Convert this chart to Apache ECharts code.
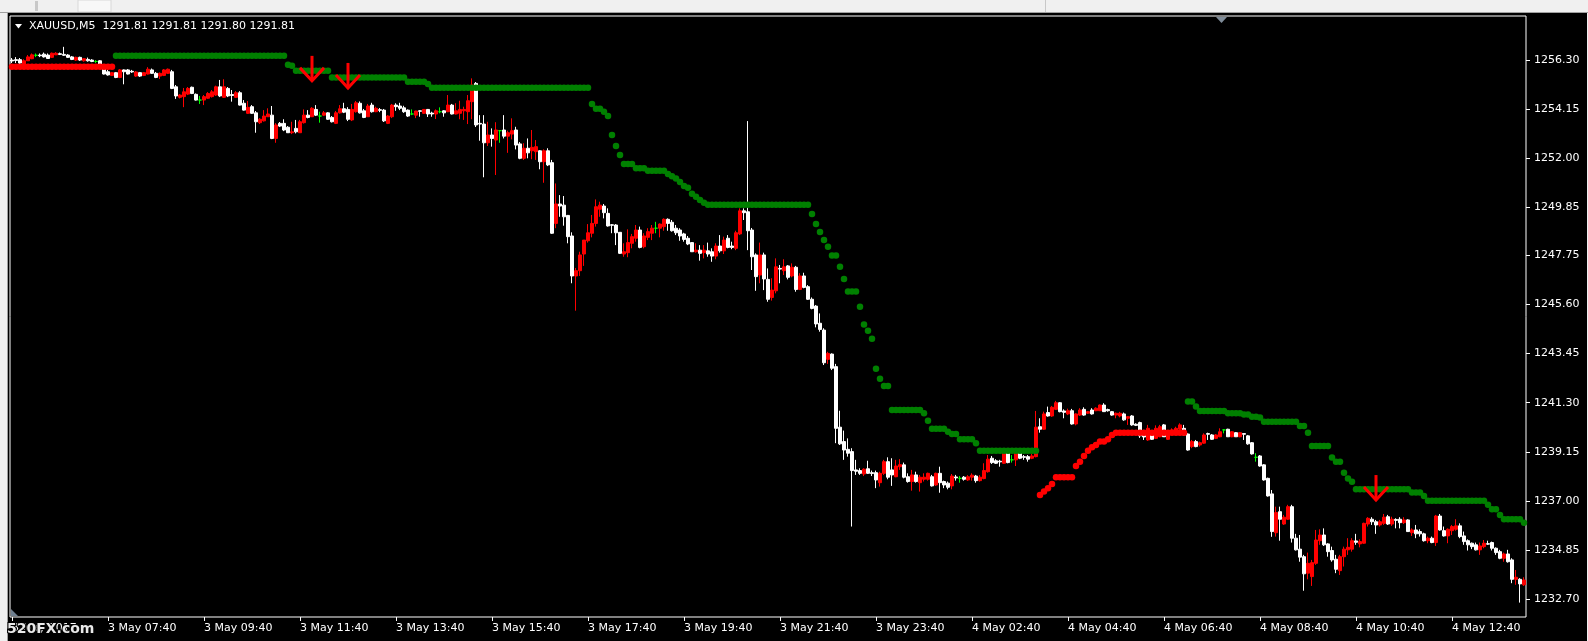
<!DOCTYPE html>
<html><head><meta charset="utf-8">
<script src="https://cdn.jsdelivr.net/npm/echarts@6/dist/echarts.min.js"></script>
<style>html,body{margin:0;padding:0;background:#000;overflow:hidden}#c{width:1588px;height:641px}</style>
</head><body><div id="c"></div>
<script>
const chartTitle = 'XAUUSD,M5  1291.81 1291.81 1291.80 1291.81';
const watermark = '520FX.com';
const timeLabels = ['3 May 2017','3 May 07:40','3 May 09:40','3 May 11:40','3 May 13:40','3 May 15:40','3 May 17:40','3 May 19:40','3 May 21:40','3 May 23:40','4 May 02:40','4 May 04:40','4 May 06:40','4 May 08:40','4 May 10:40','4 May 12:40'];
const yTicks = [1256.30,1254.15,1252.00,1249.85,1247.75,1245.60,1243.45,1241.30,1239.15,1237.00,1234.85,1232.70];
// [open, close, low, high]
const candles = [
[1256.30,1256.26,1256.17,1256.39],[1256.32,1256.28,1256.17,1256.43],[1256.32,1256.17,1256.13,1256.39],[1256.13,1256.27,1256.08,1256.34],[1256.27,1256.44,1256.26,1256.52],
[1256.36,1256.53,1256.34,1256.59],[1256.51,1256.51,1256.43,1256.59],[1256.52,1256.49,1256.43,1256.59],[1256.56,1256.44,1256.41,1256.63],[1256.52,1256.37,1256.36,1256.59],
[1256.42,1256.60,1256.39,1256.63],[1256.53,1256.60,1256.52,1256.65],[1256.58,1256.55,1256.52,1256.63],[1256.55,1256.51,1256.48,1256.88],[1256.52,1256.42,1256.39,1256.56],
[1256.44,1256.33,1256.30,1256.48],[1256.30,1256.42,1256.26,1256.45],[1256.42,1256.30,1256.26,1256.45],[1256.27,1256.36,1256.23,1256.39],[1256.33,1256.27,1256.23,1256.41],
[1256.30,1256.24,1256.21,1256.34],[1256.24,1256.24,1256.17,1256.30],[1256.27,1256.13,1256.08,1256.30],[1256.08,1255.69,1255.67,1256.13],[1255.79,1255.65,1255.62,1255.87],
[1255.63,1255.75,1255.60,1255.78],[1255.75,1255.54,1255.51,1255.78],[1255.54,1255.87,1255.51,1255.91],[1255.87,1255.79,1255.24,1255.89],[1255.87,1255.69,1255.67,1255.91],
[1255.81,1255.78,1255.74,1255.87],[1255.60,1255.78,1255.56,1255.82],[1255.75,1255.60,1255.56,1255.78],[1255.63,1255.75,1255.60,1255.78],[1255.69,1255.90,1255.67,1255.99],
[1255.87,1255.72,1255.69,1255.93],[1255.72,1255.54,1255.51,1255.78],[1255.60,1255.72,1255.47,1255.76],[1255.63,1255.87,1255.60,1255.91],[1255.72,1255.90,1255.69,1255.93],
[1255.79,1255.06,1255.03,1255.87],[1255.13,1254.73,1254.60,1255.21],[1254.67,1254.77,1254.62,1254.81],[1254.70,1254.91,1254.24,1255.08],[1254.81,1255.06,1254.77,1255.12],
[1255.11,1254.84,1254.81,1255.14],[1254.80,1254.55,1254.53,1254.84],[1254.55,1254.55,1254.38,1254.73],[1254.55,1254.70,1254.33,1254.77],[1254.63,1254.84,1254.60,1254.90],
[1254.70,1254.91,1254.66,1254.99],[1254.77,1255.13,1254.73,1255.18],[1255.13,1254.73,1254.68,1255.43],[1254.67,1255.13,1254.64,1255.46],[1255.06,1254.73,1254.68,1255.12],
[1254.79,1254.75,1254.48,1254.99],[1254.67,1254.87,1254.64,1254.94],[1254.87,1254.33,1254.31,1254.94],[1254.41,1254.11,1254.09,1254.55],[1253.97,1254.23,1253.94,1254.51],
[1254.26,1253.97,1253.94,1254.33],[1253.99,1253.60,1253.12,1254.07],[1253.56,1253.71,1253.50,1253.76],[1253.64,1253.85,1253.61,1254.11],[1253.82,1253.94,1253.81,1254.19],
[1253.89,1252.87,1252.84,1254.29],[1252.87,1253.46,1252.68,1253.54],[1253.53,1253.41,1253.37,1253.59],[1253.53,1253.24,1253.19,1253.71],[1253.36,1253.12,1253.11,1253.41],
[1253.12,1253.16,1253.06,1253.60],[1253.31,1253.16,1253.09,1253.68],[1253.12,1253.60,1253.11,1253.68],[1253.56,1253.89,1253.52,1254.14],[1253.89,1253.79,1253.75,1254.11],
[1253.82,1254.19,1253.81,1254.24],[1254.14,1253.89,1253.85,1254.33],[1253.85,1253.85,1253.56,1254.04],[1253.89,1253.99,1253.85,1254.07],[1253.99,1253.71,1253.68,1254.02],
[1253.79,1253.60,1253.57,1253.85],[1253.53,1253.99,1253.50,1254.07],[1253.99,1254.17,1253.96,1254.33],[1254.17,1254.02,1253.98,1254.43],[1254.14,1253.71,1253.63,1254.24],
[1253.68,1254.14,1253.63,1254.38],[1254.04,1254.43,1254.00,1254.51],[1254.41,1253.99,1253.96,1254.49],[1254.08,1253.79,1253.76,1254.16],[1253.82,1254.29,1253.81,1254.38],
[1254.33,1254.04,1254.00,1254.43],[1254.04,1254.19,1254.02,1254.26],[1254.13,1254.10,1254.02,1254.20],[1254.11,1253.64,1253.59,1254.16],[1253.53,1253.85,1253.50,1253.89],
[1253.82,1254.33,1253.76,1254.38],[1254.33,1254.26,1254.08,1254.41],[1254.29,1254.19,1254.11,1254.43],[1254.21,1254.04,1253.99,1254.30],[1254.11,1253.85,1253.81,1254.14],
[1253.94,1253.94,1253.89,1254.14],[1253.89,1254.07,1253.76,1254.08],[1254.08,1254.06,1253.82,1254.11],[1253.97,1254.14,1253.94,1254.16],[1254.14,1253.94,1253.81,1254.16],
[1253.98,1253.94,1253.82,1254.04],[1253.94,1254.08,1253.72,1254.14],[1254.04,1254.04,1253.97,1254.23],[1254.08,1253.99,1253.82,1254.11],[1254.04,1254.33,1254.02,1254.77],
[1254.33,1253.94,1253.92,1254.38],[1253.94,1254.08,1253.92,1254.41],[1253.97,1254.14,1253.71,1254.52],[1254.08,1254.14,1253.68,1254.26],[1254.04,1254.52,1253.50,1254.77],
[1254.48,1255.21,1253.71,1255.50],[1255.28,1253.46,1253.37,1255.34],[1253.53,1253.50,1252.77,1253.89],[1253.50,1252.68,1251.17,1253.89],[1252.68,1253.02,1252.54,1253.60],
[1253.02,1252.87,1252.51,1253.31],[1252.80,1253.24,1251.27,1253.58],[1253.21,1253.21,1252.68,1253.24],[1253.24,1252.97,1252.87,1253.89],[1252.97,1253.12,1252.24,1253.21],
[1253.06,1253.21,1252.83,1253.75],[1253.24,1252.58,1252.39,1253.38],[1252.63,1252.00,1251.96,1252.71],[1252.00,1252.44,1251.93,1252.66],[1252.44,1252.24,1252.00,1252.87],
[1252.33,1252.48,1251.96,1253.24],[1252.29,1252.51,1251.93,1252.80],[1252.33,1251.85,1251.52,1252.36],[1251.85,1252.33,1250.93,1252.39],[1252.33,1251.71,1251.66,1252.44],
[1251.81,1248.72,1248.69,1251.93],[1249.15,1250.00,1248.94,1250.90],[1250.00,1249.91,1249.44,1250.39],[1249.95,1249.44,1249.05,1250.35],[1249.50,1248.57,1248.28,1249.52],
[1248.60,1246.85,1246.53,1248.76],[1246.85,1247.08,1245.33,1247.20],[1247.08,1247.77,1246.85,1247.91],[1247.81,1248.42,1247.29,1248.42],[1248.39,1248.74,1248.31,1249.12],
[1248.72,1249.15,1248.54,1249.52],[1249.15,1249.88,1249.01,1250.20],[1249.77,1249.95,1249.44,1250.10],[1249.91,1249.62,1249.37,1250.00],[1249.59,1249.04,1249.01,1249.81],
[1249.09,1249.07,1248.72,1249.12],[1249.08,1248.74,1248.20,1249.12],[1248.76,1247.84,1247.81,1248.77],[1247.81,1247.91,1247.69,1248.28],[1247.87,1248.31,1247.67,1248.89],
[1248.28,1248.57,1248.06,1248.69],[1248.50,1248.86,1248.35,1249.08],[1248.86,1248.10,1248.06,1249.01],[1248.13,1248.60,1248.06,1248.72],[1248.54,1248.79,1248.42,1248.94],
[1248.72,1248.94,1248.42,1249.08],[1248.94,1248.94,1248.72,1249.22],[1248.94,1249.12,1248.54,1249.15],[1249.01,1249.33,1248.83,1249.37],[1249.33,1249.15,1248.83,1249.37],
[1249.20,1248.83,1248.79,1249.30],[1248.94,1248.74,1248.64,1249.08],[1248.86,1248.60,1248.39,1248.94],[1248.69,1248.45,1248.35,1248.74],[1248.50,1248.25,1248.20,1248.60],
[1248.31,1247.91,1247.90,1248.33],[1247.91,1247.98,1247.87,1248.28],[1247.98,1247.84,1247.52,1248.20],[1247.87,1247.98,1247.62,1248.20],[1247.95,1247.81,1247.69,1248.31],
[1247.91,1247.72,1247.47,1248.06],[1247.72,1248.16,1247.58,1248.28],[1248.16,1247.95,1247.87,1248.64],[1247.95,1248.42,1247.81,1248.57],[1248.50,1248.10,1248.06,1248.64],
[1248.16,1248.10,1248.02,1248.35],[1248.06,1248.74,1247.98,1248.83],[1248.69,1249.70,1248.64,1249.81],[1249.70,1249.62,1249.30,1249.81],[1249.66,1248.83,1247.98,1253.63],
[1248.86,1247.69,1247.11,1248.95],[1247.77,1246.82,1246.20,1247.84],[1246.89,1247.77,1246.53,1248.31],[1247.77,1246.72,1246.23,1247.87],[1246.70,1245.83,1245.72,1247.18],
[1245.91,1246.23,1245.77,1246.75],[1246.20,1247.25,1246.09,1247.62],[1247.18,1247.15,1246.53,1247.33],[1247.08,1247.25,1246.89,1247.58],[1247.29,1246.79,1246.70,1247.33],
[1246.85,1247.23,1246.79,1247.40],[1247.23,1246.26,1246.16,1247.29],[1246.26,1246.85,1246.23,1246.97],[1246.85,1246.35,1246.31,1246.99],[1246.38,1245.83,1245.80,1246.45],
[1245.83,1245.43,1245.39,1245.91],[1245.53,1244.75,1244.60,1245.58],[1244.78,1244.51,1244.41,1245.21],[1244.48,1243.05,1242.95,1244.56],[1243.20,1243.46,1243.00,1243.53],
[1243.43,1242.81,1242.73,1243.46],[1242.88,1240.18,1239.53,1243.00],[1240.23,1239.50,1239.45,1240.95],[1239.60,1239.23,1238.80,1240.08],[1239.26,1239.09,1238.94,1239.74],
[1239.16,1238.33,1235.88,1239.31],[1238.36,1238.30,1238.14,1238.80],[1238.33,1238.21,1238.14,1238.43],[1238.18,1238.39,1238.09,1238.43],[1238.41,1238.21,1238.18,1238.76],
[1238.24,1238.20,1238.09,1238.33],[1238.24,1237.92,1237.56,1238.33],[1237.80,1238.21,1237.63,1238.28],[1238.21,1238.72,1238.14,1238.80],[1238.72,1238.04,1237.95,1238.91],
[1238.36,1238.14,1237.66,1238.87],[1238.06,1238.53,1238.04,1238.80],[1238.50,1238.59,1238.36,1238.83],[1238.58,1238.04,1237.99,1238.68],[1238.06,1237.85,1237.80,1238.21],
[1237.85,1238.14,1237.45,1238.36],[1238.14,1237.85,1237.80,1238.28],[1237.80,1238.04,1237.41,1238.14],[1237.95,1238.04,1237.85,1238.21],[1237.95,1238.21,1237.89,1238.24],
[1238.06,1237.66,1237.63,1238.14],[1237.70,1238.21,1237.66,1238.24],[1238.21,1237.80,1237.36,1238.50],[1237.85,1237.70,1237.56,1237.89],[1237.78,1237.60,1237.51,1237.85],
[1237.66,1238.09,1237.51,1238.18],[1238.05,1238.01,1237.89,1238.14],[1237.99,1237.99,1237.80,1238.09],[1238.04,1237.95,1237.89,1238.09],[1237.92,1238.06,1237.88,1238.13],
[1238.04,1238.13,1237.89,1238.21],[1238.09,1237.89,1237.80,1238.14],[1237.89,1238.04,1237.85,1238.13],[1237.98,1238.33,1237.95,1238.65],[1238.28,1238.83,1238.24,1239.01],
[1238.87,1238.68,1238.62,1238.97],[1238.76,1238.65,1238.62,1238.83],[1238.74,1238.71,1238.50,1238.80],[1238.65,1239.09,1238.62,1239.20],[1239.09,1238.68,1238.65,1239.11],
[1238.80,1238.80,1238.68,1239.01],[1238.80,1239.09,1238.53,1239.16],[1239.09,1238.87,1238.83,1239.16],[1238.94,1238.91,1238.80,1239.01],[1238.94,1238.83,1238.72,1239.01],
[1238.87,1238.97,1238.83,1239.06],[1238.94,1240.23,1238.91,1240.94],[1240.25,1240.14,1239.99,1240.62],[1240.14,1240.81,1240.11,1240.91],[1240.87,1240.72,1240.69,1241.13],
[1240.72,1241.10,1240.68,1241.16],[1241.01,1241.30,1240.98,1241.38],[1241.30,1240.91,1240.88,1241.33],[1240.94,1240.88,1240.62,1241.01],[1240.81,1240.95,1240.76,1241.04],
[1240.95,1240.37,1240.34,1241.03],[1240.37,1240.81,1240.31,1240.84],[1240.76,1240.98,1240.72,1241.06],[1241.01,1240.76,1240.73,1241.10],[1240.84,1240.91,1240.81,1240.94],
[1240.98,1240.81,1240.78,1241.06],[1240.95,1241.06,1240.93,1241.10],[1240.95,1241.20,1240.94,1241.22],[1241.20,1240.91,1240.90,1241.28],[1241.00,1240.95,1240.91,1241.04],
[1240.91,1240.76,1240.73,1240.94],[1240.76,1240.84,1240.62,1240.87],[1240.72,1240.84,1240.66,1240.90],[1240.81,1240.55,1240.51,1240.87],[1240.62,1240.69,1240.33,1240.72],
[1240.72,1240.33,1240.29,1240.76],[1240.36,1240.31,1240.28,1240.40],[1240.43,1239.85,1239.76,1240.47],[1239.89,1239.80,1239.67,1240.11],[1239.67,1240.18,1239.63,1240.33],
[1239.89,1239.70,1239.67,1240.02],[1239.74,1240.18,1239.71,1240.31],[1239.81,1240.25,1239.79,1240.33],[1240.33,1239.81,1239.80,1240.37],[1239.70,1239.96,1239.67,1240.02],
[1239.96,1240.11,1239.93,1240.18],[1240.03,1240.18,1240.01,1240.25],[1240.14,1240.33,1240.11,1240.40],[1240.18,1239.89,1239.86,1240.33],[1239.93,1239.23,1239.20,1239.96],
[1239.38,1239.60,1239.31,1239.67],[1239.60,1239.38,1239.35,1239.67],[1239.45,1239.55,1239.38,1239.60],[1239.53,1239.89,1239.50,1239.96],[1239.95,1239.92,1239.67,1239.99],
[1239.89,1239.70,1239.67,1239.93],[1239.74,1239.89,1239.71,1239.93],[1239.81,1240.03,1239.79,1240.18],[1240.11,1240.11,1239.96,1240.14],[1240.14,1239.81,1239.80,1240.16],
[1239.81,1240.03,1239.79,1240.06],[1239.99,1239.81,1239.80,1240.02],[1239.81,1239.99,1239.79,1240.02],[1239.95,1239.92,1239.67,1239.96],[1239.85,1239.50,1239.46,1239.89],
[1239.55,1239.06,1239.03,1239.58],[1238.91,1238.91,1238.72,1239.09],[1238.97,1238.53,1238.50,1239.01],[1238.58,1237.92,1237.89,1238.61],[1237.99,1237.22,1237.19,1238.02],
[1237.31,1235.66,1235.43,1237.48],[1235.61,1236.49,1235.44,1236.75],[1236.53,1236.20,1235.26,1236.75],[1235.99,1236.29,1235.95,1236.39],[1236.20,1236.75,1236.17,1236.83],
[1236.75,1235.37,1235.18,1236.83],[1235.37,1234.86,1234.83,1235.56],[1234.89,1234.54,1234.34,1235.51],[1234.56,1233.81,1233.07,1234.64],[1233.84,1234.27,1233.57,1234.74],
[1233.69,1234.30,1233.28,1234.42],[1234.27,1235.29,1234.20,1235.73],[1235.26,1235.51,1235.08,1235.76],[1235.51,1235.08,1235.03,1235.80],[1235.12,1234.78,1234.56,1235.15],
[1234.83,1234.42,1234.34,1235.00],[1234.45,1234.01,1233.84,1234.64],[1233.95,1234.56,1233.76,1234.64],[1234.56,1234.89,1234.13,1235.00],[1234.86,1234.97,1234.64,1235.37],
[1234.89,1235.26,1234.78,1235.37],[1235.25,1235.19,1235.08,1235.56],[1235.12,1235.22,1234.97,1235.32],[1235.15,1236.02,1235.12,1236.05],[1235.99,1236.24,1235.88,1236.29],
[1236.20,1236.09,1235.95,1236.29],[1236.09,1235.95,1235.56,1236.17],[1235.95,1236.09,1235.88,1236.17],[1236.02,1236.29,1235.95,1236.43],[1236.31,1235.99,1235.95,1236.39],
[1235.99,1236.20,1235.91,1236.31],[1236.19,1236.15,1235.80,1236.24],[1236.20,1236.05,1235.80,1236.29],[1236.05,1236.17,1235.99,1236.29],[1236.17,1235.66,1235.64,1236.20],
[1235.61,1235.73,1235.47,1235.80],[1235.73,1235.56,1235.37,1235.95],[1235.66,1235.56,1235.44,1235.76],[1235.56,1235.26,1235.22,1235.61],[1235.26,1235.37,1235.15,1235.44],
[1235.37,1235.18,1235.15,1235.44],[1235.18,1236.34,1235.03,1236.39],[1236.34,1235.73,1235.70,1236.43],[1235.70,1235.47,1235.44,1235.88],[1235.47,1235.76,1235.15,1235.80],
[1235.70,1235.88,1235.51,1235.95],[1235.76,1235.91,1235.70,1236.20],[1235.91,1235.44,1235.37,1236.02],[1235.47,1235.22,1235.08,1235.66],[1235.26,1235.08,1234.83,1235.32],
[1235.15,1235.00,1234.89,1235.18],[1235.08,1234.86,1234.83,1235.18],[1234.86,1235.03,1234.64,1235.18],[1235.00,1235.15,1234.93,1235.29],[1235.13,1235.11,1235.08,1235.26],
[1235.18,1234.93,1234.83,1235.22],[1234.93,1234.74,1234.64,1234.97],[1234.78,1234.49,1234.45,1234.86],[1234.49,1234.68,1234.34,1234.74],[1234.68,1234.34,1234.30,1234.86],
[1234.42,1233.57,1233.40,1234.49],[1233.57,1233.66,1233.33,1233.98],[1233.57,1233.37,1232.55,1233.62],[1233.33,1233.54,1233.28,1233.66]
];
// indicator dot levels: [fromBar, toBar, price]
const greenRuns = [
[26,68,1256.49],[69,69,1256.10],[70,70,1256.05],[71,79,1255.83],[80,98,1255.54],[99,103,1255.35],[104,104,1255.25],[105,144,1255.09],
[145,145,1254.38],[146,147,1254.17],[148,148,1254.04],[149,149,1253.85],[150,150,1253.02],[151,151,1252.54],[152,152,1252.14],[153,155,1251.75],
[156,158,1251.56],[159,163,1251.46],[164,164,1251.31],[165,165,1251.22],[166,166,1251.12],[167,167,1250.96],[168,168,1250.79],[169,169,1250.71],
[170,170,1250.45],[171,171,1250.32],[172,172,1250.17],[173,173,1250.06],[174,199,1249.97],[200,200,1249.56],[201,201,1249.12],[202,202,1248.77],
[203,203,1248.42],[204,204,1248.13],[205,206,1247.74],[207,207,1247.25],[208,208,1246.72],[209,211,1246.17],[212,212,1245.50],[213,213,1244.72],
[214,214,1244.45],[215,215,1244.10],[216,216,1242.79],[217,217,1242.35],[218,219,1242.03],[220,227,1240.98],[228,228,1240.84],[229,229,1240.51],
[230,233,1240.16],[234,234,1240.03],[235,236,1239.93],[237,240,1239.70],[241,241,1239.53],[242,256,1239.20],
[294,295,1241.35],[296,296,1241.13],[297,303,1240.94],[304,307,1240.84],[308,309,1240.79],[310,311,1240.69],[312,312,1240.65],[313,321,1240.47],
[322,323,1240.28],[324,324,1239.99],[325,329,1239.41],[330,330,1238.90],[331,332,1238.72],[333,333,1238.24],[334,334,1237.98],[335,335,1237.84],
[336,349,1237.51],[350,352,1237.37],[353,353,1237.22],[354,368,1237.01],[369,369,1236.83],[370,371,1236.64],[372,372,1236.39],[373,377,1236.20],[378,378,1236.05]
];
const redRuns = [
[0,25,1256.01],[257,257,1237.26],[258,258,1237.41],[259,259,1237.56],[260,260,1237.74],[261,265,1238.04],[266,266,1238.53],[267,267,1238.72],
[268,268,1238.97],[269,269,1239.20],[270,270,1239.35],[271,271,1239.45],[272,273,1239.60],[274,274,1239.70],[275,275,1239.89],[276,293,1239.99]
];
const arrowBars = [75, 84, 341];
const arrowPrices = [1255.39, 1255.08, 1237.04];

function runsToPoints(runs){
  const pts = [];
  runs.forEach(function(r){ for (let i = r[0]; i <= r[1]; i++) pts.push([i, r[2]]); });
  return pts;
}
const cats = candles.map(function(_, i){ return String(i); });
const font = '"DejaVu Sans", Tahoma, sans-serif';

const chart = echarts.init(document.getElementById('c'), null, {renderer: 'canvas'});
chart.setOption({
  backgroundColor: '#000000',
  animation: false,
  grid: {left: 10, right: 62, top: 16, bottom: 24, show: true, borderColor: '#ffffff', borderWidth: 1, backgroundColor: '#000000'},
  xAxis: {
    type: 'category', data: cats, boundaryGap: true,
    axisLine: {show: false},
    axisTick: {show: true, alignWithLabel: true, interval: 23, length: 4, lineStyle: {color: '#ffffff'}},
    axisLabel: {interval: 23, color: '#ffffff', fontFamily: font, fontSize: 11, align: 'left', margin: 6,
      formatter: function(v, i){ return timeLabels[Math.round(i / 24)] || ''; }},
    splitLine: {show: false}
  },
  yAxis: {
    type: 'value', position: 'right', min: 1231.92, max: 1258.23,
    axisLine: {show: false}, splitLine: {show: false},
    axisTick: {show: true, customValues: yTicks, length: 4, lineStyle: {color: '#ffffff'}},
    axisLabel: {customValues: yTicks, color: '#ffffff', fontFamily: font, fontSize: 11, margin: 8,
      formatter: function(v){ return Number(v).toFixed(2); }}
  },
  series: [
    {type: 'candlestick', data: candles, barWidth: 3, z: 2, silent: true,
      itemStyle: {color: '#ff0000', color0: '#ffffff', borderColor: '#ff0000', borderColor0: '#ffffff', borderColorDoji: '#00ff00', borderWidth: 1}},
    {type: 'scatter', data: runsToPoints(greenRuns), symbol: 'circle', symbolSize: 6.5, z: 3, silent: true,
      itemStyle: {color: '#008000', opacity: 1}},
    {type: 'scatter', data: runsToPoints(redRuns), symbol: 'circle', symbolSize: 6.5, z: 3, silent: true,
      itemStyle: {color: '#ff0000', opacity: 1}},
    {type: 'custom', z: 4, silent: true,
      data: arrowBars.map(function(b, k){ return [b, arrowPrices[k]]; }),
      renderItem: function(params, api){
        const p = api.coord([api.value(0), api.value(1)]);
        return {type: 'group', children: [
          {type: 'line', shape: {x1: p[0], y1: p[1] - 25, x2: p[0], y2: p[1] - 1}, style: {stroke: '#ff0000', lineWidth: 3}},
          {type: 'polyline', shape: {points: [[p[0] - 12, p[1] - 13], [p[0], p[1]], [p[0] + 12, p[1] - 13]]}, style: {stroke: '#ff0000', lineWidth: 3, fill: null}}
        ]};
      }}
  ],
  graphic: [
    {type: 'rect', shape: {x: 0, y: 0, width: 1588, height: 13}, style: {fill: '#f0f0f0'}, z: 10},
    {type: 'rect', shape: {x: 78, y: 0, width: 33, height: 12}, style: {fill: '#f8f8f8', stroke: '#d8d8d8', lineWidth: 1}, z: 11},
    {type: 'rect', shape: {x: 35, y: 1, width: 3, height: 10}, style: {fill: '#c8c8c8'}, z: 11},
    {type: 'rect', shape: {x: 1045, y: 0, width: 1, height: 12}, style: {fill: '#c8c8c8'}, z: 11},
    {type: 'line', shape: {x1: 0, y1: 12.5, x2: 1588, y2: 12.5}, style: {stroke: '#a0a0a0', lineWidth: 1}, z: 11},
    {type: 'rect', shape: {x: 0, y: 13, width: 7, height: 628}, style: {fill: '#f0f0f0'}, z: 10},
    {type: 'line', shape: {x1: 7.5, y1: 13, x2: 7.5, y2: 641}, style: {stroke: '#a0a0a0', lineWidth: 1}, z: 11},
    {type: 'rect', shape: {x: 1587, y: 13, width: 1, height: 628}, style: {fill: '#f0f0f0'}, z: 10},
    {type: 'polygon', shape: {points: [[15, 24], [22, 24], [18.5, 28.5]]}, style: {fill: '#ffffff'}, z: 12},
    {type: 'text', x: 29, y: 26, style: {text: chartTitle, fill: '#ffffff', font: '11px ' + font, align: 'left', verticalAlign: 'middle'}, z: 12},
    {type: 'polygon', shape: {points: [[1216, 17], [1227, 17], [1221.5, 23]]}, style: {fill: '#7f8c99'}, z: 12},
    {type: 'polygon', shape: {points: [[11, 609], [11, 616], [18, 616]]}, style: {fill: '#6f7f8f'}, z: 12},
    {type: 'text', x: 7, y: 629, style: {text: watermark, fill: '#e8e8e8', stroke: '#000000', lineWidth: 2, font: 'bold 14px ' + font, align: 'left', verticalAlign: 'middle'}, z: 12}
  ]
});
</script></body></html>
